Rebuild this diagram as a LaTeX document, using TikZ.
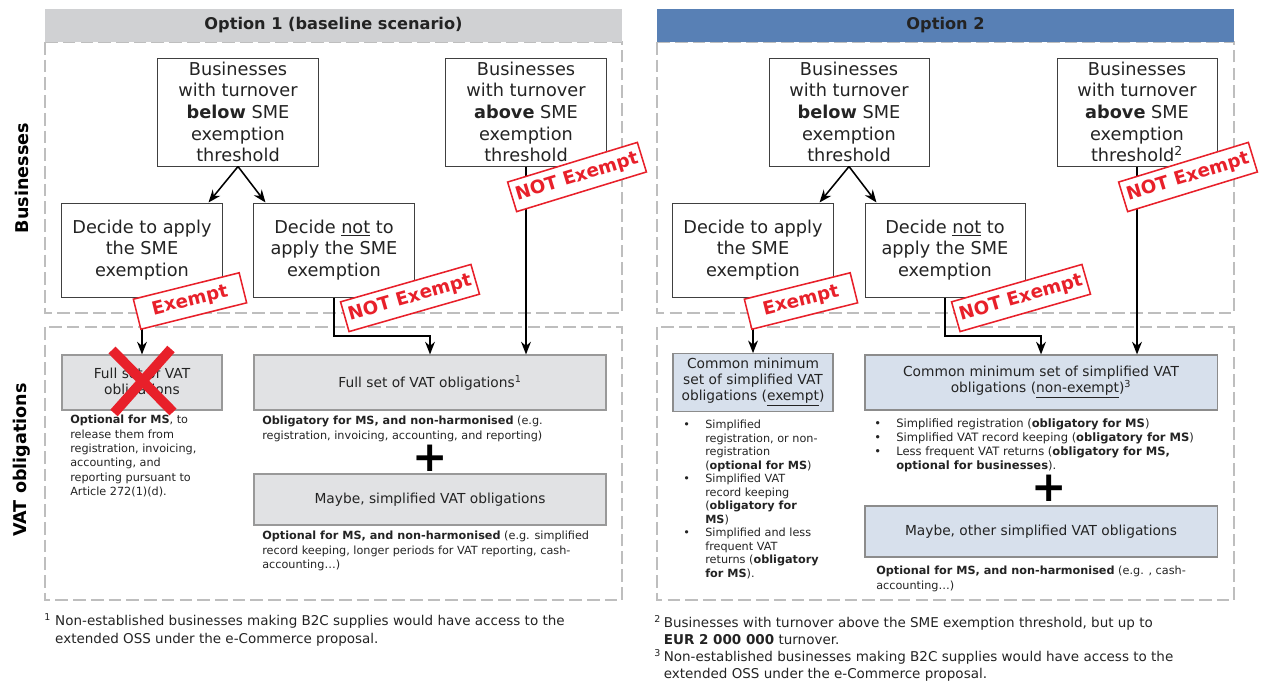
\documentclass[tikz,border=0pt]{standalone}
\usepackage{fontspec}
\setmainfont{DejaVu Sans}
\usetikzlibrary{arrows.meta}

\definecolor{hdrgray}{RGB}{208,209,211}
\definecolor{hdrblue}{RGB}{88,128,181}
\definecolor{boxgray}{RGB}{225,226,228}
\definecolor{boxblue}{RGB}{215,224,236}
\definecolor{stampred}{RGB}{232,32,42}
\definecolor{dashgray}{RGB}{190,190,190}
\definecolor{txtcol}{RGB}{35,35,35}

\tikzset{
  flowbox/.style={draw=black!75, line width=0.7pt, minimum width=4cm, align=center,
    inner sep=1pt, text=txtcol, font=\fontsize{12.6}{15.4}\selectfont},
  oblgray/.style={draw=black!40, line width=0.8pt, fill=boxgray, minimum height=1.375cm,
    align=center, text=txtcol, font=\fontsize{9.8}{11.4}\selectfont},
  oblblue/.style={oblgray, fill=boxblue, draw=black!45},
  stampbox/.style={draw=stampred, fill=white, line width=1.1pt, text=stampred,
    font=\fontsize{13}{13}\selectfont\bfseries, minimum height=22pt, inner xsep=3pt, inner ysep=1pt},
  regionbox/.style={draw=dashgray, line width=1.4pt, dash pattern=on 9pt off 3.6pt},
  hdrbar/.style={minimum width=14.425cm, minimum height=0.825cm, text=txtcol,
    font=\fontsize{11.5}{13}\selectfont\bfseries},
  notetext/.style={anchor=north west, align=left, inner sep=0pt, text=txtcol,
    font=\fontsize{8}{10.2}\selectfont},
  fnotetext/.style={anchor=north west, inner sep=0pt, text=txtcol,
    font=\fontsize{9.6}{12}\selectfont},
  sidelabel/.style={rotate=90, font=\fontsize{12.5}{14}\selectfont\bfseries},
  arr/.style={-{Stealth[length=9pt,width=7pt]}, line width=1.1pt},
  plussign/.style={inner sep=0pt, font=\fontsize{30}{30}\selectfont\bfseries}
}

\begin{document}
\begin{tikzpicture}[x=0.025cm, y=-0.025cm]
  \useasboundingbox (0,0) rectangle (1266,680);

  % side labels
  \node[sidelabel] (sidebus) at (22,178) {Businesses};
  \node[sidelabel] (sidevat) at (22,460) {VAT obligations};

  % ---------- Option 1 ----------
  \draw[regionbox] (45,42) rectangle (622,313);
  \draw[regionbox] (45,327) rectangle (622,600);
  \node[hdrbar, fill=hdrgray] (hdr1) at (333.5,25.5) {Option 1 (baseline scenario)};

  \node[flowbox, minimum height=2.7cm] (below1) at (238,112)
    {Businesses\\with turnover\\\textbf{below} SME\\exemption\\threshold};
  \node[flowbox, minimum height=2.7cm] (above1) at (526,112)
    {Businesses\\with turnover\\\textbf{above} SME\\exemption\\threshold};
  \node[flowbox, minimum height=2.35cm] (apply1) at (142,250)
    {Decide to apply\\the SME\\exemption};
  \node[flowbox, minimum height=2.35cm] (notapply1) at (334,250)
    {Decide \underline{not} to\\apply the SME\\exemption};

  \node[oblgray, minimum width=4cm] (fullsmall) at (142,382.5) {Full set of VAT\\obligations};
  \node[oblgray, minimum width=8.8cm] (fullset) at (430,382.5)
    {Full set of VAT obligations\textsuperscript{1}};
  \node[oblgray, minimum width=8.8cm, minimum height=1.275cm] (maybe1) at (430,499.5)
    {Maybe, simplified VAT obligations};
  \node[plussign] (plus1) at (430,458) {+};

  \node[notetext] (optms1) at (70,415)
    {\textbf{Optional for MS}, to\\release them from\\registration, invoicing,\\accounting, and\\reporting pursuant to\\Article 272(1)(d).};
  \node[notetext] (oblms1) at (262,416)
    {\textbf{Obligatory for MS, and non-harmonised} (e.g.\\registration, invoicing, accounting, and reporting)};
  \node[notetext] (optnh1) at (262,531)
    {\textbf{Optional for MS, and non-harmonised} (e.g. simplified\\record keeping, longer periods for VAT reporting, cash-\\accounting…)};

  \coordinate (bend1) at (430,336);
  \draw[arr] (below1.south) -- ([xshift=-0.35cm]apply1.north east);
  \draw[arr] (below1.south) -- ([xshift=0.3cm]notapply1.north west);
  \draw[arr] (apply1.south) -- (fullsmall.north);
  \draw[arr] (notapply1.south) |- (bend1) -- (fullset.north);
  \draw[arr] (above1.south) -- (above1.south |- fullset.north);

  \draw[stampred, line width=7pt] (112,350) -- (173,412) (171,349) -- (114,413);

  \node[stampbox, rotate=14, minimum width=2.725cm] (ex1) at (190,301) {Exempt};
  \node[stampbox, rotate=16] (notex1) at (410,298) {NOT Exempt};
  \node[stampbox, rotate=17] (notex1b) at (577,177) {NOT Exempt};

  \node[fnotetext, font=\fontsize{9.6}{12.8}\selectfont] (fn1) at (44,613)
    {\begin{tabular}{@{}l@{\hspace{3pt}}l@{}}
      \textsuperscript{1} & Non-established businesses making B2C supplies would have access to the\\
       & extended OSS under the e-Commerce proposal.
    \end{tabular}};

  % ---------- Option 2 ----------
  \draw[regionbox] (657,42) rectangle (1234,313);
  \draw[regionbox] (657,327) rectangle (1234,600);
  \node[hdrbar, fill=hdrblue] (hdr2) at (945.5,25.5) {Option 2};

  \node[flowbox, minimum height=2.7cm] (below2) at (849,112)
    {Businesses\\with turnover\\\textbf{below} SME\\exemption\\threshold};
  \node[flowbox, minimum height=2.7cm] (above2) at (1137,112)
    {Businesses\\with turnover\\\textbf{above} SME\\exemption\\threshold\textsuperscript{2}};
  \node[flowbox, minimum height=2.35cm] (apply2) at (753,250)
    {Decide to apply\\the SME\\exemption};
  \node[flowbox, minimum height=2.35cm] (notapply2) at (945,250)
    {Decide \underline{not} to\\apply the SME\\exemption};

  \node[oblblue, minimum width=4cm] (cmin1) at (753,382.5)
    {Common minimum\\set of simplified VAT\\obligations (\underline{exempt})};
  \node[oblblue, minimum width=8.8cm] (cmin2) at (1041,382.5)
    {Common minimum set of simplified VAT\\obligations (\underline{non-exempt})\textsuperscript{3}};
  \node[oblblue, minimum width=8.8cm, minimum height=1.275cm] (maybe2) at (1041,531.5)
    {Maybe, other simplified VAT obligations};
  \node[plussign] (plus2) at (1049,488) {+};

  \node[notetext, font=\fontsize{8}{9.6}\selectfont] (bul1) at (683,419)
    {\begin{tabular}{@{}p{0.55cm}@{}l@{}}
      \textbullet & Simplified\\
       & registration, or non-\\
       & registration\\
       & (\textbf{optional for MS})\\
      \textbullet & Simplified VAT\\
       & record keeping\\
       & (\textbf{obligatory for}\\
       & \textbf{MS})\\
      \textbullet & Simplified and less\\
       & frequent VAT\\
       & returns (\textbf{obligatory}\\
       & \textbf{for MS}).
    \end{tabular}};
  \node[notetext, font=\fontsize{8.2}{10}\selectfont] (bul2) at (874,417)
    {\begin{tabular}{@{}p{0.55cm}@{}l@{}}
      \textbullet & Simplified registration (\textbf{obligatory for MS})\\
      \textbullet & Simplified VAT record keeping (\textbf{obligatory for MS})\\
      \textbullet & Less frequent VAT returns (\textbf{obligatory for MS,}\\
       & \textbf{optional for businesses}).
    \end{tabular}};
  \node[notetext] (optnh2) at (876,566)
    {\textbf{Optional for MS, and non-harmonised} (e.g. , cash-\\accounting…)};

  \coordinate (bend2) at (1041,336);
  \draw[arr] (below2.south) -- ([xshift=-0.35cm]apply2.north east);
  \draw[arr] (below2.south) -- ([xshift=0.3cm]notapply2.north west);
  \draw[arr] (apply2.south) -- (cmin1.north);
  \draw[arr] (notapply2.south) |- (bend2) -- (cmin2.north);
  \draw[arr] (above2.south) -- (above2.south |- cmin2.north);

  \node[stampbox, rotate=14, minimum width=2.725cm] (ex2) at (801,301) {Exempt};
  \node[stampbox, rotate=16] (notex2) at (1021,298) {NOT Exempt};
  \node[stampbox, rotate=17] (notex2b) at (1188,177) {NOT Exempt};

  \node[fnotetext] (fn23) at (654,615)
    {\begin{tabular}{@{}l@{\hspace{2pt}}l@{}}
      \textsuperscript{2} & Businesses with turnover above the SME exemption threshold, but up to\\
       & \textbf{EUR 2 000 000} turnover.\\
      \textsuperscript{3} & Non-established businesses making B2C supplies would have access to the\\
       & extended OSS under the e-Commerce proposal.
    \end{tabular}};
\end{tikzpicture}
\end{document}
